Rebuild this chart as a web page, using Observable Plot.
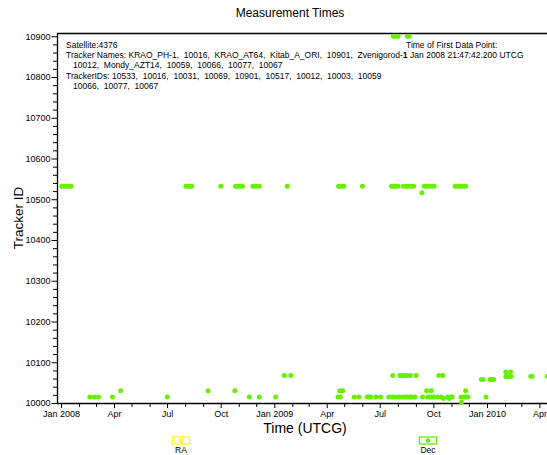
<!DOCTYPE html>
<html><head><meta charset="utf-8">
<script src="https://cdn.jsdelivr.net/npm/d3@7"></script>
<script src="https://cdn.jsdelivr.net/npm/@observablehq/plot@0.6"></script>
<style>body{margin:0;background:#fff} svg text{white-space:pre}</style>
</head><body><div id="chart"></div>
<script>
// ---- data ----
const dates10533 = ["2008-01-01","2008-01-05","2008-01-09","2008-01-13","2008-01-17",
  "2008-08-01","2008-08-04","2008-08-08","2008-08-11","2008-09-30",
  "2008-10-25","2008-10-29","2008-11-02","2008-11-06","2008-11-24","2008-11-29","2008-12-05",
  "2009-01-22","2009-04-20","2009-04-24","2009-04-29","2009-05-31",
  "2009-07-20","2009-07-23","2009-07-27","2009-07-31",
  "2009-08-09","2009-08-14","2009-08-18","2009-08-22","2009-08-27",
  "2009-09-14","2009-09-18","2009-09-22","2009-09-27","2009-10-01",
  "2009-11-06","2009-11-10","2009-11-14","2009-11-18","2009-11-24"];
const dates10517 = ["2009-09-10"];
const dates10901 = ["2009-07-23","2009-07-27","2009-07-31","2009-08-16","2009-08-19"];
const dates10016 = ["2008-02-18","2008-02-26","2008-03-04","2008-03-28","2008-06-30","2008-11-18","2008-12-05","2009-01-02",
  "2009-04-19","2009-04-23","2009-05-17","2009-05-25","2009-06-08","2009-06-11","2009-06-14","2009-06-23","2009-07-01",
  "2009-07-15","2009-07-21","2009-07-25","2009-07-30","2009-08-03","2009-08-10","2009-08-15","2009-08-20","2009-08-24","2009-08-29",
  "2009-09-11","2009-09-20","2009-09-24","2009-09-28","2009-10-01","2009-10-07","2009-10-13","2009-10-24","2009-10-30","2009-11-01",
  "2009-11-16","2009-11-20","2009-11-24","2009-11-28","2009-12-29"];
const dates10012 = ["2009-10-17","2009-10-27"];
const dates10003 = ["2009-11-17"];
const dates10031 = ["2008-04-11","2008-09-08","2008-10-24","2009-04-22","2009-04-27","2009-09-18","2009-09-26","2009-11-24"];
const dates10069 = ["2009-01-17","2009-01-28","2009-07-22","2009-08-03","2009-08-08","2009-08-12","2009-08-16","2009-08-21","2009-08-31","2009-10-09","2009-10-16"];
const dates10059 = ["2009-12-21","2009-12-24","2010-01-05","2010-01-08","2010-01-11"];
const dates10077 = ["2010-02-01","2010-02-09"];
const dates10066 = ["2010-02-01","2010-02-05","2010-02-10"];
const dates10067 = ["2010-03-16","2010-03-18","2010-04-13"];

const trackerIds = [10533,10517,10901,10016,10012,10003,10031,10069,10059,10077,10066,10067];
const trackerDates = [dates10533,dates10517,dates10901,dates10016,dates10012,dates10003,dates10031,dates10069,dates10059,dates10077,dates10066,dates10067];

const yMajorTicks = [10000,10100,10200,10300,10400,10500,10600,10700,10800,10900];
const xMajorTicks = ["2008-01-01","2008-04-01","2008-07-01","2008-10-01","2009-01-01","2009-04-01","2009-07-01","2009-10-01","2010-01-01","2010-04-01"];

const titleText = "Measurement Times";
const xLabel = "Time (UTCG)";
const yLabel = "Tracker ID";
const infoLines = ["Satellite:4376",
  "Tracker Names: KRAO_PH-1,  10016,  KRAO_AT64,  Kitab_A_ORI,  10901,  Zvenigorod-1",
  "   10012,  Mondy_AZT14,  10059,  10066,  10077,  10067",
  "TrackerIDs: 10533,  10016,  10031,  10069,  10901,  10517,  10012,  10003,  10059",
  "   10066,  10077,  10067"];
const firstPointLines = ["Time of First Data Point:", "1 Jan 2008 21:47:42.200 UTCG"];
const legendNames = ["RA","Dec"];

// ---- build ----
const points = [];
trackerIds.forEach((id, i) => trackerDates[i].forEach(d => points.push({date: new Date(d + "T12:00:00Z"), id})));

const green = "#66f000";
const yellow = "#ffff00";
const xDomain = [new Date(Date.UTC(2007,11,25,3)), new Date(Date.UTC(2010,3,14))];
const yTop = 10908;
const yMinorTicks = d3.range(10000, 10901, 20).filter(v => v % 100 !== 0);
const xMajor = xMajorTicks.map(s => new Date(s + "T00:00:00Z"));
const xMinor = d3.utcMonth.range(new Date(Date.UTC(2008,0,1)), new Date(Date.UTC(2010,4,1))).filter(d => d.getUTCMonth() % 3 !== 0);
const fmtMonth = d3.utcFormat("%b");
const fmtTick = d => d.getUTCMonth() === 0 ? d3.utcFormat("%b %Y")(d) : fmtMonth(d);

const chart = Plot.plot({
  width: 547, height: 455,
  marginTop: 33, marginBottom: 52, marginLeft: 57, marginRight: 0,
  style: {fontFamily: "Arial, 'Liberation Sans', sans-serif", fontSize: "9px", color: "black", background: "white"},
  x: {type: "utc", domain: xDomain, label: null},
  y: {domain: [10000, yTop], label: null},
  marks: [
    Plot.axisY(yMinorTicks, {tickSize: 4, tickFormat: () => "", label: null}),
    Plot.axisY(yMajorTicks, {tickSize: 5.5, tickPadding: 1.5, tickFormat: d => String(d), label: null, fontSize: 9}),
    Plot.axisX(xMinor, {tickSize: 4, tickFormat: () => "", label: null}),
    Plot.axisX(xMajor, {tickSize: 5, tickPadding: 2, tickFormat: fmtTick, label: null, fontSize: 9}),
    Plot.ruleY([yTop], {stroke: "black", strokeWidth: 1.3}),
    Plot.ruleY([10000], {stroke: "black", strokeWidth: 1.3}),
    Plot.ruleX([xDomain[0]], {stroke: "black", strokeWidth: 1.3}),
    Plot.dot(points, {x: "date", y: "id", r: 2.5, fill: green, stroke: null})
  ]
});
document.getElementById("chart").appendChild(chart);

// ---- titles, annotations, legend ----
const svg = d3.select(chart);
const ff = "Arial, 'Liberation Sans', sans-serif";
svg.append("text").attr("x", 290).attr("y", 17).attr("text-anchor", "middle")
  .attr("font-size", 12).attr("font-family", ff).attr("fill", "black").text(titleText);
svg.append("text").attr("x", 305).attr("y", 433).attr("text-anchor", "middle")
  .attr("font-size", 14).attr("font-family", ff).attr("fill", "black").text(xLabel);
svg.append("text").attr("transform", "translate(23,218) rotate(-90)").attr("text-anchor", "middle")
  .attr("font-size", 13.5).attr("font-family", ff).attr("fill", "black").text(yLabel);

const infoY = [47.5, 58, 68.3, 78.6, 89];
infoLines.forEach((t, i) => svg.append("text").attr("x", 66).attr("y", infoY[i]).attr("text-anchor", "start")
  .attr("font-size", 8.5).attr("font-family", ff).attr("fill", "black").style("white-space", "pre").text(t));
svg.append("text").attr("x", 406).attr("y", 47.5).attr("text-anchor", "start").attr("font-size", 8.5).attr("font-family", ff).attr("fill", "black").text(firstPointLines[0]);
svg.append("text").attr("x", 403).attr("y", 58).attr("text-anchor", "start").attr("font-size", 8.5).attr("font-family", ff).attr("fill", "black").text(firstPointLines[1]);

const legendX = [181, 428];
const legendColors = [yellow, green];
legendNames.forEach((name, i) => {
  const cx = legendX[i];
  svg.append("rect").attr("x", cx - 8.5).attr("y", 437).attr("width", 17).attr("height", 7)
    .attr("fill", "white").attr("stroke", legendColors[i]).attr("stroke-width", 1.3);
  svg.append("circle").attr("cx", cx).attr("cy", 440.5).attr("r", 2.3).attr("fill", legendColors[i]);
  svg.append("text").attr("x", cx).attr("y", 453).attr("text-anchor", "middle")
    .attr("font-size", 8.5).attr("font-family", ff).attr("fill", "black").text(name);
});
</script></body></html>
